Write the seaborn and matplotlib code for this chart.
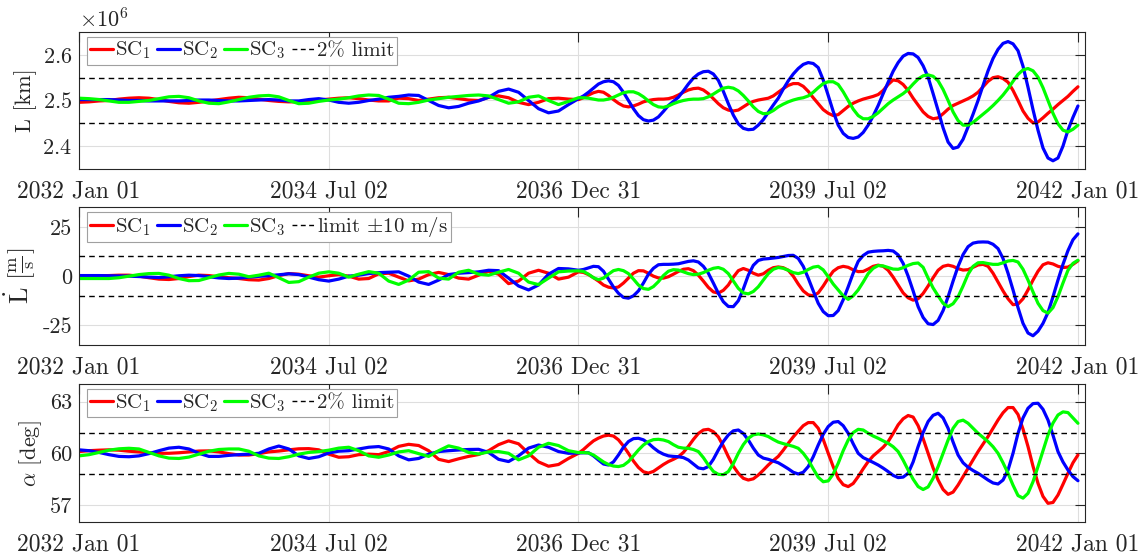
import numpy as np
import pandas as pd
import matplotlib
matplotlib.use("Agg")
import matplotlib.pyplot as plt
import matplotlib.dates as mdates
from matplotlib.ticker import ScalarFormatter
from matplotlib.lines import Line2D
import seaborn as sns

# ---------------- data ----------------
t_start = "2032-01-01"
tick_dates = ["2032-01-01", "2034-07-02", "2036-12-31", "2039-07-02", "2042-01-01"]
coarse_step_days = 36.53      # sampling before 2036 Dec 31
fine_start_day = 1826.5       # 2036 Dec 31
fine_step_days = 18.265       # sampling from 2036 Dec 31 on
n_coarse, n_fine = 50, 101
sc_names = ["SC1", "SC2", "SC3"]
sc_labels = ["SC$_1$", "SC$_2$", "SC$_3$"]

# ---- Arm length L [10^6 km] ----
L_sc1_early = [2.496, 2.497, 2.499, 2.500, 2.503, 2.505, 2.506, 2.505, 2.502, 2.498,
               2.495, 2.494, 2.496, 2.499, 2.502, 2.505, 2.507, 2.506, 2.503, 2.500,
               2.498, 2.497, 2.497, 2.499, 2.501, 2.503, 2.505, 2.506, 2.504, 2.501,
               2.499, 2.499, 2.505, 2.504, 2.500, 2.503, 2.506, 2.507, 2.504, 2.501,
               2.500, 2.507, 2.510, 2.506, 2.496, 2.491, 2.496, 2.504, 2.505, 2.503]
L_sc1_late = [2.502, 2.506, 2.512, 2.517, 2.520, 2.518, 2.511, 2.502, 2.494, 2.488,
              2.486, 2.488, 2.492, 2.497, 2.500, 2.502, 2.503, 2.503, 2.504, 2.507,
              2.512, 2.518, 2.523, 2.526, 2.527, 2.523, 2.515, 2.504, 2.493, 2.484,
              2.479, 2.477, 2.479, 2.486, 2.493, 2.498, 2.501, 2.503, 2.505, 2.510,
              2.518, 2.526, 2.533, 2.537, 2.537, 2.531, 2.520, 2.506, 2.493, 2.480,
              2.472, 2.467, 2.469, 2.478, 2.487, 2.494, 2.499, 2.503, 2.506, 2.509,
              2.513, 2.522, 2.535, 2.545, 2.543, 2.535, 2.522, 2.505, 2.490, 2.475,
              2.465, 2.460, 2.462, 2.471, 2.481, 2.489, 2.494, 2.499, 2.504, 2.510,
              2.518, 2.530, 2.542, 2.550, 2.552, 2.548, 2.540, 2.522, 2.500, 2.477,
              2.461, 2.451, 2.453, 2.462, 2.472, 2.481, 2.491, 2.500, 2.509, 2.520,
              2.530]
L_sc2_early = [2.502, 2.502, 2.502, 2.502, 2.501, 2.500, 2.500, 2.499, 2.499, 2.499,
               2.499, 2.500, 2.501, 2.501, 2.500, 2.499, 2.499, 2.500, 2.501, 2.502,
               2.501, 2.499, 2.499, 2.502, 2.504, 2.501, 2.496, 2.494, 2.496, 2.500,
               2.503, 2.507, 2.509, 2.512, 2.511, 2.500, 2.489, 2.484, 2.487, 2.494,
               2.499, 2.507, 2.520, 2.525, 2.518, 2.500, 2.482, 2.473, 2.477, 2.491]
L_sc2_late = [2.504, 2.510, 2.518, 2.527, 2.536, 2.541, 2.543, 2.541, 2.533, 2.518,
              2.500, 2.482, 2.467, 2.458, 2.455, 2.457, 2.464, 2.476, 2.489, 2.498,
              2.507, 2.521, 2.536, 2.549, 2.558, 2.563, 2.564, 2.558, 2.544, 2.520,
              2.493, 2.468, 2.449, 2.439, 2.436, 2.437, 2.446, 2.458, 2.474, 2.490,
              2.505, 2.525, 2.543, 2.558, 2.570, 2.579, 2.583, 2.581, 2.572, 2.545,
              2.511, 2.476, 2.446, 2.428, 2.419, 2.417, 2.420, 2.430, 2.446, 2.466,
              2.489, 2.515, 2.540, 2.564, 2.583, 2.597, 2.603, 2.602, 2.594, 2.576,
              2.551, 2.515, 2.478, 2.440, 2.409, 2.395, 2.398, 2.415, 2.442, 2.470,
              2.500, 2.533, 2.565, 2.592, 2.612, 2.625, 2.629, 2.624, 2.609, 2.575,
              2.529, 2.480, 2.435, 2.396, 2.374, 2.368, 2.374, 2.400, 2.435, 2.463,
              2.488]
L_sc3_early = [2.505, 2.504, 2.502, 2.499, 2.496, 2.496, 2.498, 2.500, 2.504, 2.508,
               2.509, 2.506, 2.499, 2.494, 2.493, 2.497, 2.502, 2.507, 2.510, 2.511,
               2.508, 2.500, 2.493, 2.494, 2.498, 2.501, 2.503, 2.506, 2.510, 2.512,
               2.511, 2.503, 2.494, 2.493, 2.496, 2.501, 2.504, 2.507, 2.509, 2.511,
               2.512, 2.510, 2.502, 2.494, 2.497, 2.507, 2.510, 2.500, 2.491, 2.498]
L_sc3_late = [2.506, 2.506, 2.505, 2.503, 2.501, 2.501, 2.503, 2.507, 2.512, 2.517,
              2.519, 2.519, 2.515, 2.508, 2.499, 2.491, 2.486, 2.485, 2.488, 2.493,
              2.497, 2.500, 2.502, 2.503, 2.503, 2.504, 2.508, 2.514, 2.521, 2.527,
              2.529, 2.527, 2.521, 2.511, 2.499, 2.486, 2.476, 2.471, 2.472, 2.478,
              2.486, 2.492, 2.497, 2.501, 2.504, 2.506, 2.510, 2.518, 2.528, 2.537,
              2.541, 2.541, 2.535, 2.519, 2.500, 2.481, 2.467, 2.460, 2.460, 2.465,
              2.473, 2.483, 2.493, 2.501, 2.508, 2.515, 2.524, 2.536, 2.547, 2.554,
              2.556, 2.553, 2.543, 2.524, 2.500, 2.475, 2.456, 2.446, 2.446, 2.452,
              2.461, 2.470, 2.479, 2.489, 2.500, 2.512, 2.526, 2.542, 2.557, 2.567,
              2.570, 2.565, 2.551, 2.528, 2.500, 2.472, 2.449, 2.435, 2.431, 2.437,
              2.446]

# ---- Arm length rate dL/dt [m/s] ----
Ld_sc1_early = [0.0, 0.1, 0.2, 0.3, 0.5, 0.5, 0.0, -0.8, -1.5, -1.7,
                -1.2, -0.2, 0.5, 0.3, -0.3, -0.8, -1.2, -1.8, -2.0, -1.2,
                0.3, 1.3, 1.0, 0.2, -0.5, 0.2, 0.8, 0.0, -1.5, -1.2,
                1.2, 1.5, -0.5, -2.4, -1.5, 0.8, 1.9, 0.8, -1.0, -1.5,
                0.5, 2.5, 1.0, -3.8, -2.5, 1.5, 3.0, 1.5, -1.5, -0.5]
Ld_sc1_late = [2.2, 1.9, 0.8, -0.8, -2.5, -4.5, -5.6, -6.0, -5.5, -3.5,
               -1.0, 1.5, 2.8, 2.7, 1.5, 0.0, -0.9, -1.0, -0.3, 1.0,
               2.4, 3.5, 3.8, 2.8, 0.5, -2.5, -5.7, -8.0, -8.6, -7.2,
               -4.5, -0.5, 2.8, 3.9, 3.0, 1.5, 0.5, 1.2, 3.0, 4.3,
               4.7, 4.3, 3.0, 0.0, -4.0, -7.5, -9.5, -10.0, -8.5, -5.0,
               -1.0, 2.5, 4.3, 5.0, 4.5, 3.2, 2.3, 2.4, 3.6, 5.0,
               5.6, 5.0, 3.0, -0.5, -4.5, -8.5, -11.0, -12.2, -11.5, -8.8,
               -5.0, -0.8, 3.0, 5.0, 5.6, 5.0, 3.8, 3.1, 3.3, 4.5,
               5.7, 6.0, 5.0, 1.5, -3.0, -7.5, -11.5, -14.5, -14.2, -11.5,
               -7.0, -2.0, 2.5, 5.8, 6.8, 6.2, 5.0, 4.4, 4.6, 6.0,
               7.8]
Ld_sc2_early = [0.3, 0.3, 0.3, 0.2, 0.1, 0.0, -0.2, -0.5, -0.7, -0.3,
                0.2, 0.5, 0.3, -0.3, -0.9, -1.2, -1.0, -0.5, -0.1, 0.2,
                0.7, 1.2, 0.8, -0.5, -1.8, -2.5, -1.5, 0.0, 0.5, 1.3,
                1.8, 2.0, 2.2, 0.0, -3.0, -4.2, -2.0, 0.8, 1.5, 1.8,
                2.2, 3.0, 2.8, -1.0, -5.0, -7.0, -4.5, 1.0, 3.9, 3.7]
Ld_sc2_late = [3.0, 3.4, 4.2, 5.0, 4.8, 2.5, -1.5, -5.5, -8.7, -10.8,
               -11.2, -10.0, -7.5, -3.5, 1.0, 4.0, 5.8, 6.0, 6.0, 6.1,
               6.3, 6.9, 7.5, 7.8, 7.2, 5.0, 1.5, -3.5, -8.7, -13.0,
               -15.4, -15.5, -12.5, -6.5, 0.5, 5.5, 8.0, 8.7, 8.9, 9.2,
               9.5, 10.0, 10.5, 10.6, 9.0, 5.0, -1.0, -7.5, -13.8, -18.0,
               -20.1, -20.0, -17.5, -12.0, -5.4, 1.5, 7.5, 10.5, 12.2, 12.6,
               12.8, 12.9, 13.1, 12.8, 10.8, 6.5, 0.0, -7.5, -15.5, -21.0,
               -24.2, -24.6, -22.5, -17.5, -10.5, -2.5, 5.0, 11.0, 15.0, 16.8,
               17.3, 17.4, 17.3, 16.2, 14.0, 9.0, 1.5, -7.0, -16.0, -24.0,
               -28.9, -30.3, -28.0, -24.0, -18.5, -10.5, -2.0, 6.0, 13.0, 18.5,
               21.5]
Ld_sc3_early = [-1.2, -1.2, -1.2, -1.2, -0.8, 0.0, 0.8, 1.3, 1.4, 0.5,
                -1.2, -2.3, -2.2, -0.8, 0.6, 1.4, 1.0, -0.3, 0.5, 1.5,
                -0.8, -3.2, -2.8, -0.5, 1.5, 2.2, 1.5, -0.5, 1.0, 2.3,
                1.5, -2.5, -4.2, -2.0, 2.0, 2.3, -1.0, -1.5, 2.0, 3.0,
                1.0, 0.5, 2.0, 3.4, 1.5, -3.0, -4.3, -1.0, 2.2, 2.6]
Ld_sc3_late = [2.7, 2.4, 1.0, -0.8, -1.8, -1.0, 1.0, 2.8, 3.4, 2.8,
               1.3, -1.5, -4.5, -6.3, -6.7, -5.3, -2.8, 0.3, 2.5, 3.3,
               3.1, 2.2, 1.3, 0.8, 1.0, 1.8, 3.0, 4.0, 4.4, 3.5,
               1.3, -2.5, -6.2, -8.5, -9.0, -7.8, -5.4, -2.0, 1.3, 3.5,
               4.4, 4.0, 3.0, 1.8, 1.3, 2.0, 3.4, 4.6, 5.0, 3.2,
               -0.3, -4.0, -7.0, -10.0, -11.8, -10.0, -7.0, -3.0, 1.3, 4.0,
               5.4, 5.2, 4.4, 3.6, 3.5, 4.3, 5.5, 6.4, 6.7, 4.5,
               -1.0, -6.0, -10.0, -13.8, -15.5, -14.0, -10.5, -5.0, 1.0, 5.0,
               6.8, 6.9, 6.4, 6.0, 6.0, 6.8, 7.7, 8.0, 7.2, 3.5,
               -2.0, -8.0, -13.8, -17.5, -18.8, -16.0, -10.4, -3.5, 3.0, 6.5,
               8.1]

# ---- Interior angle alpha [deg] ----
a_sc1_early = [60.10, 60.15, 60.18, 60.20, 60.18, 60.12, 60.08, 60.03, 60.00, 60.00,
               60.03, 60.08, 60.13, 60.14, 60.08, 59.98, 59.90, 59.90, 59.98, 60.08,
               60.13, 60.20, 60.26, 60.27, 60.20, 59.95, 59.77, 59.80, 59.92, 59.95,
               59.92, 60.10, 60.40, 60.52, 60.45, 60.15, 59.65, 59.52, 59.68, 59.82,
               59.93, 60.15, 60.50, 60.72, 60.55, 60.00, 59.50, 59.25, 59.35, 59.70]
a_sc1_late = [60.00, 60.22, 60.48, 60.72, 60.88, 61.00, 61.05, 61.00, 60.78, 60.42,
              60.00, 59.55, 59.18, 58.93, 58.85, 58.95, 59.15, 59.35, 59.52, 59.65,
              59.80, 60.05, 60.40, 60.80, 61.15, 61.35, 61.39, 61.25, 60.95, 60.42,
              59.80, 59.25, 58.84, 58.55, 58.45, 58.52, 58.74, 59.02, 59.32, 59.58,
              59.82, 60.18, 60.58, 60.95, 61.28, 61.60, 61.78, 61.78, 61.45, 60.80,
              60.00, 59.22, 58.55, 58.18, 58.07, 58.25, 58.65, 59.10, 59.52, 59.85,
              60.10, 60.35, 60.68, 61.15, 61.65, 62.00, 62.19, 62.10, 61.60, 60.85,
              60.00, 59.15, 58.45, 57.90, 57.62, 57.75, 58.16, 58.65, 59.13, 59.62,
              60.10, 60.53, 60.97, 61.45, 61.93, 62.35, 62.65, 62.65, 62.25, 61.40,
              60.39, 59.25, 58.26, 57.50, 57.10, 57.15, 57.58, 58.20, 58.84, 59.45,
              59.90]
a_sc2_early = [60.20, 60.15, 60.05, 59.92, 59.82, 59.80, 59.85, 59.98, 60.15, 60.30,
               60.35, 60.25, 60.00, 59.82, 59.82, 59.88, 59.92, 59.95, 60.00, 60.25,
               60.42, 60.25, 59.85, 59.70, 59.80, 60.02, 60.12, 60.15, 60.25, 60.35,
               60.39, 60.25, 59.85, 59.62, 59.70, 59.95, 60.10, 60.15, 60.19, 60.22,
               60.23, 60.05, 59.65, 59.52, 59.85, 60.30, 60.48, 60.35, 60.10, 60.00]
a_sc2_late = [60.02, 60.03, 60.03, 59.85, 59.61, 59.38, 59.32, 59.50, 59.90, 60.35,
              60.68, 60.85, 60.87, 60.78, 60.58, 60.32, 60.10, 59.95, 59.85, 59.82,
              59.80, 59.75, 59.61, 59.38, 59.15, 59.10, 59.23, 59.65, 60.19, 60.68,
              61.06, 61.30, 61.35, 61.15, 60.77, 60.30, 59.90, 59.72, 59.65, 59.55,
              59.45, 59.28, 59.10, 58.90, 58.80, 58.90, 59.23, 59.80, 60.48, 61.10,
              61.55, 61.80, 61.84, 61.60, 61.16, 60.55, 60.00, 59.75, 59.61, 59.47,
              59.32, 59.14, 58.94, 58.72, 58.59, 58.62, 58.84, 59.50, 60.39, 61.20,
              61.84, 62.20, 62.32, 62.05, 61.45, 60.65, 59.90, 59.45, 59.19, 59.00,
              58.84, 58.65, 58.45, 58.28, 58.22, 58.45, 59.03, 60.00, 61.16, 62.05,
              62.61, 62.88, 62.90, 62.55, 61.93, 61.05, 60.10, 59.50, 59.03, 58.65,
              58.41]
a_sc3_early = [59.85, 59.92, 60.05, 60.18, 60.26, 60.29, 60.25, 60.05, 59.85, 59.72,
               59.70, 59.78, 59.95, 60.12, 60.22, 60.25, 60.25, 60.12, 59.85, 59.72,
               59.70, 59.80, 59.95, 60.05, 60.10, 60.18, 60.30, 60.35, 60.15, 59.85,
               59.77, 59.90, 60.08, 60.15, 59.98, 59.82, 60.15, 60.43, 60.30, 60.05,
               59.96, 60.08, 60.10, 60.00, 59.62, 59.85, 60.35, 60.58, 60.45, 60.15]
a_sc3_late = [60.04, 60.04, 60.02, 59.90, 59.70, 59.50, 59.35, 59.26, 59.23, 59.30,
              59.52, 59.85, 60.19, 60.48, 60.68, 60.79, 60.81, 60.77, 60.68, 60.50,
              60.35, 60.30, 60.29, 60.22, 60.10, 59.75, 59.32, 58.95, 58.78, 58.76,
              58.94, 59.40, 60.00, 60.50, 60.87, 61.07, 61.12, 61.07, 60.97, 60.80,
              60.65, 60.56, 60.48, 60.40, 60.29, 60.00, 59.61, 59.10, 58.61, 58.35,
              58.40, 58.80, 59.42, 60.15, 60.77, 61.20, 61.39, 61.35, 61.16, 61.00,
              60.87, 60.72, 60.58, 60.38, 60.10, 59.60, 59.03, 58.50, 58.07, 57.90,
              58.05, 58.55, 59.23, 60.00, 60.77, 61.45, 61.84, 61.92, 61.74, 61.45,
              61.16, 60.92, 60.68, 60.38, 60.00, 59.45, 58.84, 58.15, 57.55, 57.40,
              57.68, 58.35, 59.23, 60.15, 61.06, 61.75, 62.22, 62.40, 62.36, 62.05,
              61.74]

L_limits = [2.45e6, 2.55e6]
Ld_limits = [-10, 10]
a_limits = [58.8, 61.2]
L_yticks = [2.4e6, 2.5e6, 2.6e6]
Ld_yticks = [-25, 0, 25]
a_yticks = [57, 60, 63]
limit_labels = ["2% limit", r"limit $\pm$10 m/s", "2% limit"]

# ---------------- styling ----------------
sns.set_theme(style="white")
plt.rcParams.update({
    "font.family": ["cmr10"],
    "mathtext.fontset": "cm",
    "axes.formatter.use_mathtext": True,
    "axes.unicode_minus": False,
    "font.size": 16,
})
ink = "#262626"
colors = {"SC1": "#ff0000", "SC2": "#0000ff", "SC3": "#00ff00"}

sample_days = np.concatenate([np.arange(n_coarse) * coarse_step_days,
                              fine_start_day + np.arange(n_fine) * fine_step_days])
times = pd.Timestamp(t_start) + pd.to_timedelta(sample_days, unit="D")


def long_df(series, scale=1.0):
    frames = []
    for name, (early, late) in zip(sc_names, series):
        vals = np.asarray(list(early) + list(late), float) * scale
        assert len(vals) == len(times), (name, len(vals))
        frames.append(pd.DataFrame({"time": times, "value": vals, "sc": name}))
    return pd.concat(frames, ignore_index=True)


fig = plt.figure(figsize=(11.47, 5.57), dpi=100)
left, width = 0.0689, 0.8771
ax1 = fig.add_axes([left, 0.6966, width, 0.2460])
ax2 = fig.add_axes([left, 0.3806, width, 0.2472])
ax3 = fig.add_axes([left, 0.0623, width, 0.2478])

panels = [
    (ax1, long_df([(L_sc1_early, L_sc1_late), (L_sc2_early, L_sc2_late), (L_sc3_early, L_sc3_late)], 1e6),
     L_limits, (2.35e6, 2.65e6), L_yticks, "L [km]", limit_labels[0], 16),
    (ax2, long_df([(Ld_sc1_early, Ld_sc1_late), (Ld_sc2_early, Ld_sc2_late), (Ld_sc3_early, Ld_sc3_late)]),
     Ld_limits, (-35, 35), Ld_yticks, r"$\dot{\mathrm{L}}\ [\frac{\mathrm{m}}{\mathrm{s}}]$", limit_labels[1], 19),
    (ax3, long_df([(a_sc1_early, a_sc1_late), (a_sc2_early, a_sc2_late), (a_sc3_early, a_sc3_late)]),
     a_limits, (56, 64), a_yticks, r"$\alpha$ [deg]", limit_labels[2], 16),
]

xmin = pd.Timestamp(t_start)
xmax = pd.Timestamp(t_start) + pd.Timedelta(days=3679)

for i, (ax, df, lims, ylim, yticks, ylabel, limlabel, ylab_fs) in enumerate(panels):
    sns.lineplot(data=df, x="time", y="value", hue="sc", hue_order=sc_names,
                 palette=colors, linewidth=2.3, estimator=None, sort=False,
                 legend=False, ax=ax, solid_joinstyle="round", solid_capstyle="round")
    for lv in lims:
        ax.axhline(lv, color="black", lw=1.0, ls=(0, (4, 3)), zorder=3)
    ax.set_xlim(xmin, xmax)
    ax.set_ylim(*ylim)
    ax.set_xticks(pd.to_datetime(tick_dates))
    ax.xaxis.set_major_formatter(mdates.DateFormatter("%Y %b %d"))
    ax.set_yticks(yticks)
    if i == 0:
        fmt = ScalarFormatter(useMathText=True)
        fmt.set_useOffset(False)
        fmt.set_powerlimits((0, 0))
        ax.yaxis.set_major_formatter(fmt)
        ax.yaxis.get_offset_text().set_fontsize(16)
        ax.yaxis.get_offset_text().set_color(ink)
    else:
        ax.set_yticklabels([str(v) for v in yticks])
    ax.set_xlabel("")
    ax.set_ylabel(ylabel, fontsize=ylab_fs, color=ink, labelpad=4)
    ax.grid(True, color="#dedede", lw=0.8)
    ax.set_axisbelow(True)
    ax.tick_params(axis="both", direction="in", length=7, width=0.8,
                   top=True, right=True, colors=ink, labelcolor=ink, labelsize=16)
    ax.tick_params(axis="x", pad=8, labelsize=17)
    ax.tick_params(axis="y", pad=5)
    for sp in ax.spines.values():
        sp.set_visible(True)
        sp.set_color(ink)
        sp.set_linewidth(0.8)

    handles = [Line2D([], [], color=colors[n], lw=2.3) for n in sc_names]
    handles.append(Line2D([], [], color="black", lw=1.0, ls=(0, (3.5, 2.5))))
    leg = ax.legend(handles, sc_labels + [limlabel], ncol=4, loc="upper left",
                    bbox_to_anchor=(0.008, 0.965), borderaxespad=0.0,
                    handlelength=1.1, handletextpad=0.1, columnspacing=0.3,
                    borderpad=0.15, fontsize=15, frameon=True, fancybox=False,
                    framealpha=1.0, edgecolor="#a0a0a0")
    leg.get_frame().set_linewidth(0.8)
    for txt in leg.get_texts():
        txt.set_color(ink)

fig.savefig("out.png", dpi=100)
